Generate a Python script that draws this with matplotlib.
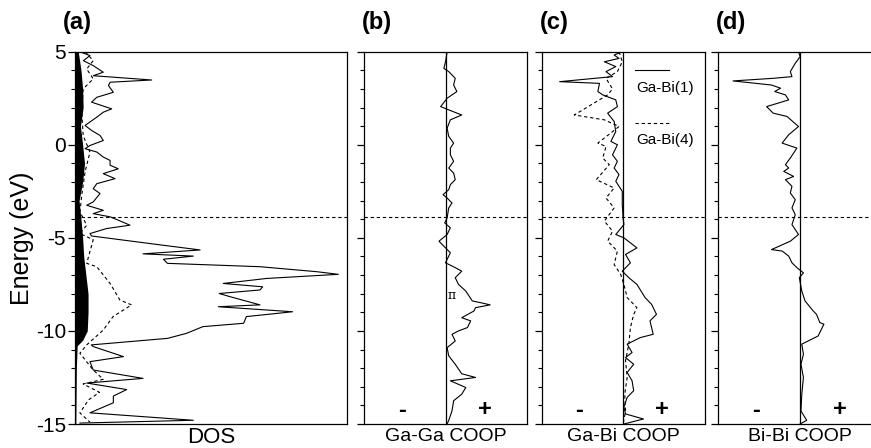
import numpy as np
import matplotlib
matplotlib.use('Agg')
import matplotlib.pyplot as plt
from matplotlib.ticker import MultipleLocator

plt.rcParams['font.family'] = ['Liberation Sans', 'DejaVu Sans']
plt.rcParams['axes.unicode_minus'] = False

# ---- datos ----
# (a) DOS total (linea continua)
dos_tot_e = [5.0, 4.79, 4.52, 4.25, 3.9, 3.71, 3.48, 3.36, 3.18, 2.82, 2.55, 2.29, 2.02, 1.93,
             1.75, 1.48, 1.04, 0.77, 0.5, 0.23, -0.04, -0.21, -0.39, -0.66, -0.84, -1.1, -1.29,
             -1.55, -1.82, -2.09, -2.36, -2.62, -3.07, -3.25, -3.52, -3.7, -3.87, -4.05, -4.32,
             -4.5, -4.77, -4.9, -5.33, -5.65, -5.86, -5.98, -6.15, -6.37, -6.55, -6.82, -6.96,
             -7.18, -7.45, -7.63, -7.8, -7.99, -8.16, -8.6, -8.7, -8.97, -9.23, -9.59, -9.77,
             -10.13, -10.4, -10.75, -10.84, -11.38, -11.65, -12.1, -12.55, -12.8, -13.15,
             -13.5, -13.86, -14.4, -14.8, -14.95]
dos_tot = [0.18, 0.55, 0.31, 0.67, 1.04, 0.67, 2.82, 1.29, 1.23, 1.41, 0.8, 0.61, 1.16, 1.35,
           1.04, 0.8, 0.37, 0.61, 0.92, 1.04, 0.55, 0.37, 0.8, 1.04, 1.29, 1.29, 1.59,
           1.04, 1.47, 0.8, 0.67, 0.92, 0.67, 0.43, 1.04, 0.67, 1.29, 1.59, 2.02,
           1.16, 0.55, 0.61, 2.88, 4.6, 2.5, 4.35, 3.25, 3.4, 6.8, 8.9, 9.68,
           7.05, 5.45, 6.9, 6.8, 5.3, 5.7, 6.8, 5.27, 8.0, 6.3, 6.2, 4.7,
           4.1, 3.4, 0.6, 0.67, 1.78, 0.55, 0.67, 2.5, 0.43, 1.9,
           1.41, 1.41, 0.55, 4.35, 0.18]
# (a) DOS Bi (discontinua)
dos_bi_e = [5.0, 4.52, 4.07, 3.54, 3.0, 1.75, 0.5, -0.4, -1.45, -2.7, -3.6, -4.32, -4.77, -5.1,
            -6.37, -6.55, -7.45, -8.34, -8.6, -9.23, -9.95, -10.75, -11.2, -12.1, -12.6,
            -12.85, -13.3, -13.7, -14.4, -14.9]
dos_bi = [0.37, 0.67, 0.43, 0.67, 0.3, 0.25, 0.3, 0.55, 0.37, 0.25, 0.18, 0.43, 0.18, 0.67,
          0.43, 0.8, 1.29, 1.65, 2.08, 1.4, 1.04, 0.43, 0.18, 0.67, 1.04,
          0.3, 0.9, 0.5, 0.18, 0.55]
# (a) DOS Ga (relleno negro)
dos_ga_e = [5, 4, 3, 2, 1, 0, -1, -2, -3, -4, -5, -6, -7, -8, -9, -10, -10.5, -10.8, -12, -15]
dos_ga = [0.12, 0.22, 0.28, 0.3, 0.2, 0.28, 0.35, 0.28, 0.15, 0.22, 0.28, 0.32, 0.4, 0.48, 0.48,
          0.45, 0.28, 0.08, 0.05, 0.03]

# (b) Ga-Ga COOP
gaga_e = [5.0, 4.46, 4.1, 3.93, 3.57, 3.21, 2.86, 2.5, 2.05, 1.875, 1.6, 1.34, 0.89, 0.45, 0.09,
          -0.18, -0.54, -0.89, -1.25, -1.52, -1.875, -2.14, -2.41, -2.68, -2.86, -3.13, -3.39,
          -3.93, -4.2, -4.46, -4.82, -5.18, -5.45, -5.8, -6.34, -6.6, -6.79, -7.14, -7.5,
          -7.86, -8.39, -8.48, -8.6, -8.75, -8.93, -9.29, -9.46, -9.82, -10.0, -10.18, -10.54,
          -10.9, -11.34, -11.79, -12.3, -12.5, -12.68, -13.04, -13.4, -13.75, -14.3, -14.8, -15.0]
gaga = [0.02, 0.0, -0.02, 0.04, 0.12, 0.1, 0.14, 0.02, -0.06, 0.04, 0.2, 0.06, 0.02, 0.04, 0.1,
        0.06, 0.06, 0.1, 0.04, 0.1, 0.12, 0.06, 0.04, -0.03, 0.02, 0.08, 0.04,
        0.02, -0.01, 0.06, 0.02, -0.08, -0.02, 0.06, 0.0, 0.12, 0.2, 0.12, 0.16,
        0.25, 0.33, 0.43, 0.55, 0.37, 0.35, 0.2, 0.31, 0.27, 0.16, 0.08, 0.12,
        0.02, 0.04, 0.12, 0.2, 0.37, 0.06, 0.25, 0.2, 0.1, 0.08, 0.04, 0.02]

# (c) Ga-Bi(1) COOP
gabi1_e = [5.0, 4.82, 4.64, 4.46, 4.2, 3.93, 3.66, 3.39, 3.3, 2.86, 2.68, 2.41, 2.05, 1.7, 1.25,
           0.71, 0.18, 0.0, -0.54, -0.89, -1.25, -1.6, -1.96, -2.5, -3.21, -3.93, -4.29, -4.82,
           -5.0, -5.54, -5.89, -6.34, -6.79, -7.14, -7.5, -8.21, -8.57, -9.11, -9.46, -10.18,
           -10.36, -10.71, -11.16, -11.43, -11.79, -12.23, -12.68, -13.21, -13.57, -14.1,
           -14.46, -14.73, -15.0]
gabi1 = [-0.01, -0.11, -0.05, -0.23, -0.09, -0.21, -0.13, -0.78, -0.29, -0.31, -0.25, -0.09,
         -0.07, -0.19, -0.11, -0.09, -0.15, -0.07, -0.13, -0.07, -0.11, -0.05, -0.09, -0.01,
         -0.01, 0.0, 0.01, -0.09, 0.01, 0.17, 0.03, 0.09, -0.01, 0.07, 0.17, 0.27, 0.35, 0.41,
         0.33, 0.37, 0.21, 0.05, 0.11, 0.03, 0.13, 0.05, 0.11, 0.13, 0.05, 0.01, 0.03, 0.25, 0.01]
# (c) Ga-Bi(4) COOP
gabi4_e = [5.0, 4.46, 3.93, 3.57, 3.0, 2.68, 1.6, 1.34, 0.98, 0.09, -0.09, -0.71, -1.07, -1.875,
           -2.32, -2.86, -3.39, -4.1, -4.64, -5.18, -5.71, -6.43, -6.96, -7.5, -8.21, -8.75,
           -9.11, -9.82, -10.71, -11.6, -12.5, -13.4, -14.3, -15.0]
gabi4 = [-0.05, -0.01, -0.07, -0.21, -0.13, -0.19, -0.6, -0.23, -0.05, -0.31, -0.21, -0.25,
         -0.17, -0.33, -0.11, -0.21, -0.11, -0.23, -0.13, -0.19, -0.07, -0.11, -0.03, 0.01,
         0.05, 0.17, 0.13, 0.09, 0.07, 0.03, 0.05, 0.02, 0.03, 0.0]

# (d) Bi-Bi COOP
bibi_e = [5.0, 4.73, 4.38, 3.93, 3.66, 3.57, 3.43, 3.21, 3.04, 2.86, 2.68, 2.41, 2.05, 1.7, 1.52,
          0.98, 0.54, 0.09, -0.18, -0.71, -1.07, -1.25, -1.43, -1.7, -1.875, -2.23, -2.59,
          -2.95, -3.39, -3.75, -4.29, -4.82, -5.18, -5.63, -5.71, -5.98, -6.34, -6.6, -6.88,
          -7.14, -7.86, -8.39, -8.93, -9.11, -9.55, -9.64, -10.27, -10.71, -11.25, -11.79,
          -12.5, -13.4, -14.3, -14.8, -15.0]
bibi = [-0.02, 0.0, -0.06, -0.12, -0.1, -0.33, -0.82, -0.35, -0.24, -0.31, -0.18, -0.14, -0.41,
        -0.33, -0.16, -0.02, -0.14, -0.22, -0.04, -0.12, -0.18, -0.14, -0.2, -0.08, -0.18,
        -0.1, -0.12, -0.06, -0.1, -0.06, -0.1, -0.02, -0.12, -0.35, -0.22, -0.14, -0.1, -0.04,
        0.04, -0.01, 0.02, 0.06, 0.16, 0.2, 0.24, 0.29, 0.22, 0.02, 0.04, 0.01,
        0.04, 0.02, 0.01, 0.08, 0.0]

E_FERMI = -3.9
W, H = 871, 448
DASH = (0, (3, 2.5))


def caja(left, right, top=51.7, bottom=424):
    # convierte pixeles a fracciones de figura
    return [left / W, (H - bottom) / H, (right - left) / W, (bottom - top) / H]


def estilo(ax):
    ax.set_ylim(-15, 5)
    ax.yaxis.set_major_locator(MultipleLocator(5))
    ax.yaxis.set_minor_locator(MultipleLocator(1))
    ax.tick_params(axis='y', which='major', direction='out', length=5, width=0.9, labelsize=15, pad=1.5)
    ax.tick_params(axis='y', which='minor', direction='out', length=3, width=0.8)
    ax.tick_params(axis='x', bottom=False, labelbottom=False)
    for s in ax.spines.values():
        s.set_linewidth(0.9)
    ax.axhline(E_FERMI, color='k', lw=0.8, ls=DASH)


fig = plt.figure(figsize=(W / 100, H / 100), dpi=100)

# (a) DOS
ax_a = fig.add_axes(caja(75, 347))
estilo(ax_a)
ax_a.set_xlim(0, 10)
ax_a.fill_betweenx(dos_ga_e, 0, dos_ga, color='k', lw=0)
ax_a.plot(dos_tot, dos_tot_e, color='k', lw=0.8)
ax_a.plot(dos_bi, dos_bi_e, color='k', lw=0.8, ls=DASH)
ax_a.set_ylabel('Energy (eV)', fontsize=18, labelpad=1)
ax_a.set_xlabel('DOS', fontsize=16, labelpad=2)

# COOP panels
coop = [
    ('(b)', 364.3, 526.7, 'Ga-Ga COOP'),
    ('(c)', 541.7, 704.5, 'Ga-Bi COOP'),
    ('(d)', 718.3, 882.0, 'Bi-Bi COOP'),
]
ejes = []
for letra, l, r, nombre in coop:
    ax = fig.add_axes(caja(l, r))
    estilo(ax)
    ax.tick_params(axis='y', labelleft=False)
    ax.set_xlim(-1, 1)
    ax.axvline(0, color='k', lw=0.9)
    ax.set_xlabel(nombre, fontsize=14, labelpad=3)
    ax.text(0.23, 0.035, '-', transform=ax.transAxes, ha='center', va='center',
            fontsize=17, fontweight='bold')
    ax.text(0.74, 0.04, '+', transform=ax.transAxes, ha='center', va='center',
            fontsize=17, fontweight='bold')
    fig.text((l - 2) / W, 1 - 22 / H, letra, fontsize=17, fontweight='bold', va='center')
    ejes.append(ax)

fig.text(63 / W, 1 - 22 / H, '(a)', fontsize=17, fontweight='bold', va='center')

ax_b, ax_c, ax_d = ejes
ax_b.plot(gaga, gaga_e, color='k', lw=0.8)
ax_b.text(0.08, -8.1, 'π', fontsize=9, ha='center', va='center', family='DejaVu Serif')

ax_c.plot(gabi1, gabi1_e, color='k', lw=0.8)
ax_c.plot(gabi4, gabi4_e, color='k', lw=0.8, ls=DASH)
# leyenda a mano (linea arriba, texto debajo)
ax_c.plot([0.15, 0.57], [4.0, 4.0], color='k', lw=0.8)
ax_c.text(0.16, 3.05, 'Ga-Bi(1)', fontsize=11, va='center')
ax_c.plot([0.15, 0.57], [1.15, 1.15], color='k', lw=0.8, ls=DASH)
ax_c.text(0.16, 0.25, 'Ga-Bi(4)', fontsize=11, va='center')

ax_d.plot(bibi, bibi_e, color='k', lw=0.8)

plt.savefig('out.png', dpi=100)
